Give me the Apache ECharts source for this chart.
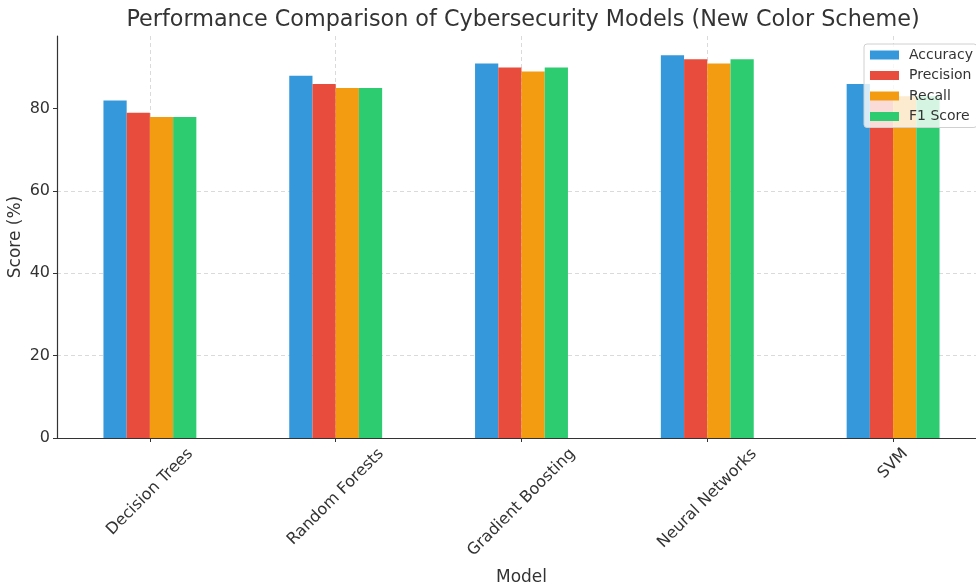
<!DOCTYPE html>
<html>
<head>
<meta charset="utf-8">
<script src="https://cdn.jsdelivr.net/npm/echarts@6/dist/echarts.min.js"></script>
<style>
  html, body { margin: 0; padding: 0; background: #fff; }
  #chart { width: 976px; height: 586px; }
</style>
</head>
<body>
<div id="chart"></div>
<script>
var models = ['Decision Trees', 'Random Forests', 'Gradient Boosting', 'Neural Networks', 'SVM'];
var accuracy = [82, 88, 91, 93, 86];
var precision = [79, 86, 90, 92, 84];
var recall = [78, 85, 89, 91, 83];
var f1Score = [78, 85, 90, 92, 83];
var yTicks = [0, 20, 40, 60, 80];

var font = 'DejaVu Sans';
var labelSize = 16;

// matplotlib centres each rotated label's box under its tick; ECharts anchors
// the text end, so each label gets its own padding to push it into place
var ctx = document.createElement('canvas').getContext('2d');
ctx.font = labelSize + 'px "' + font + '"';
var rich = {};
models.forEach(function (m, i) {
    var w = ctx.measureText(m).width;
    var boxH = (w + 18) / Math.SQRT2;
    var s = boxH / 2;
    var p = s / Math.SQRT2;
    rich['l' + i] = {
        fontFamily: font,
        fontSize: labelSize,
        color: '#333',
        padding: [2 * p, 2 * p, 0, 0]
    };
});

var chart = echarts.init(document.getElementById('chart'));

function barSeries(name, data, color) {
    return {
        name: name,
        type: 'bar',
        data: data,
        barGap: 0,
        barCategoryGap: '50%',
        itemStyle: { color: color }
    };
}

var option = {
    animation: false,
    textStyle: { fontFamily: font },
    title: {
        text: 'Performance Comparison of Cybersecurity Models (New Color Scheme)',
        left: 518,
        top: 4,
        textAlign: 'center',
        textStyle: { fontFamily: font, fontSize: 22.3, fontWeight: 'normal', color: '#333' }
    },
    legend: {
        orient: 'vertical',
        left: 864,
        top: 44,
        zlevel: 1,
        itemWidth: 29,
        itemHeight: 9,
        itemGap: 6.5,
        padding: [4, 4, 4, 6],
        backgroundColor: 'rgba(255,255,255,0.8)',
        borderColor: '#d0d0d0',
        borderWidth: 1,
        borderRadius: 3,
        icon: 'rect',
        textStyle: { fontFamily: font, fontSize: 14, color: '#333', lineHeight: 14, padding: [0, 0, 0, 5] }
    },
    grid: {
        left: 57,
        right: -10,
        top: 36,
        bottom: 148,
        containLabel: false,
        outerBoundsMode: 'none'
    },
    xAxis: {
        type: 'category',
        data: models,
        name: 'Model',
        nameLocation: 'middle',
        nameGap: 131,
        nameTextStyle: { fontFamily: font, fontSize: 17, color: '#333' },
        axisLine: { lineStyle: { color: '#333', width: 1.2 } },
        axisTick: { show: true, alignWithLabel: true, length: 4, lineStyle: { color: '#333' } },
        axisLabel: {
            rotate: 45,
            margin: 7,
            align: 'center',
            verticalAlign: 'middle',
            formatter: function (value, idx) {
                return '{l' + idx + '|' + value + '}';
            },
            rich: rich
        },
        splitLine: {
            show: true,
            alignWithLabel: true,
            lineStyle: { color: '#dadada', type: [4, 3], width: 1 }
        }
    },
    yAxis: {
        type: 'value',
        min: 0,
        max: 97.65,
        interval: 20,
        name: 'Score (%)',
        nameLocation: 'middle',
        nameGap: 33,
        nameMoveOverlap: false,
        nameTextStyle: { fontFamily: font, fontSize: 17, color: '#333' },
        axisLine: { show: true, lineStyle: { color: '#333', width: 1.2 } },
        axisTick: { show: true, length: 4, customValues: yTicks, lineStyle: { color: '#333' } },
        axisLabel: {
            margin: 7,
            fontFamily: font,
            fontSize: 16,
            color: '#333',
            customValues: yTicks
        },
        splitLine: {
            showMaxLine: false,
            lineStyle: { color: '#dadada', type: [4, 3], width: 1 }
        }
    },
    series: [
        barSeries('Accuracy', accuracy, '#3498db'),
        barSeries('Precision', precision, '#e74c3c'),
        barSeries('Recall', recall, '#f39c12'),
        barSeries('F1 Score', f1Score, '#2ecc71')
    ]
};

chart.setOption(option);
</script>
</body>
</html>
